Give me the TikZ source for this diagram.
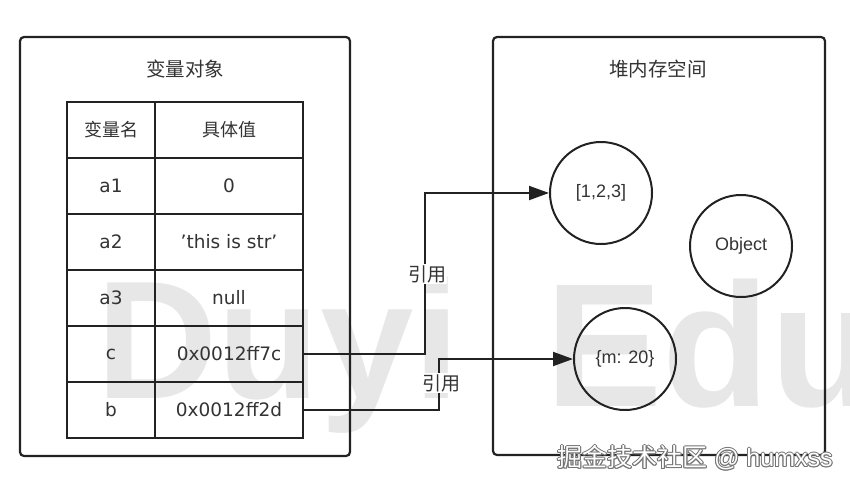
\documentclass[tikz,border=0pt]{standalone}
\usepackage{fontspec}
\setmainfont{DejaVu Sans}
\newfontfamily\cjk{Noto Sans CJK SC}
\newfontfamily\lib{Liberation Sans}
\usetikzlibrary{arrows.meta}
\definecolor{ln}{HTML}{222222}
\definecolor{tx}{HTML}{333333}
\definecolor{wm}{HTML}{E7E7E7}
\begin{document}
\begin{tikzpicture}[x=1pt,y=-1pt,
  box/.style={draw=ln, line width=2.2pt, rounded corners=4pt, inner sep=0pt},
  cell/.style={draw=ln, line width=2pt, minimum height=56pt, inner sep=0pt, text=tx, font=\fontsize{18.5}{20}\selectfont},
  namecell/.style={cell, minimum width=88pt},
  valcell/.style={cell, minimum width=148pt},
  hdr/.style={font=\cjk\fontsize{18}{20}\selectfont},
  heap/.style={draw=ln, line width=2pt, circle, minimum size=102pt, inner sep=0pt, text=tx, font=\lib\fontsize{18}{20}\selectfont},
  boxtitle/.style={text=tx, font=\cjk\fontsize{19.5}{22}\selectfont},
  ref/.style={draw=ln, line width=2pt, -{Triangle[length=20pt,width=14pt]}},
  reflabel/.style={fill=white, inner sep=1pt, text=tx, font=\cjk\fontsize{19}{21}\selectfont},
  wmtext/.style={text=wm, inner sep=0pt, anchor=base west},
  credittext/.style={anchor=west, inner sep=0pt, font=\fontsize{25}{27}\selectfont}
]
\useasboundingbox (0,0) rectangle (850,488);

% watermark
\node[wmtext, font=\lib\bfseries\fontsize{168}{168}\selectfont] (wm1) at (96,398) {Duyi};
\node[wmtext, font=\lib\bfseries\fontsize{176}{176}\selectfont] (wm2) at (545,406) {Edu};

% outer boxes
\node[box, minimum width=330pt, minimum height=419pt] (vars) at (185,246.5) {};
\node[box, minimum width=332pt, minimum height=418pt] (heapbox) at (659,246) {};
\node[boxtitle] (varstitle) at (185,69) {变量对象};
\node[boxtitle] (heaptitle) at (658,69) {堆内存空间};

% table
\node[namecell, hdr] (h1) at (111,130) {变量名};
\node[valcell, hdr] (h2) at (229,130) {具体值};
\node[namecell] (n1) at (111,186) {a1};
\node[valcell] (v1) at (229,186) {0};
\node[namecell] (n2) at (111,242) {a2};
\node[valcell] (v2) at (229,242) {'this is str'};
\node[namecell] (n3) at (111,298) {a3};
\node[valcell] (v3) at (229,298) {null};
\node[namecell] (nc) at (111,354) {c};
\node[valcell] (vc) at (229,354) {0x0012ff7c};
\node[namecell] (nb) at (111,410) {b};
\node[valcell] (vb) at (229,410) {0x0012ff2d};

% heap objects
\node[heap] (arr) at (601,193) {[1,2,3]};
\node[heap] (obj) at (741,246) {Object};
\node[heap] (mobj) at (625,359) {\{m: 20\}};

% references
\coordinate (k1) at (425,354);
\coordinate (k2) at (439,410);
\draw[ref] (vc.east) -- (k1) |- (arr.west);
\draw[ref] (vb.east) -- (k2) |- (mobj.west);
\node[reflabel] (l1) at (427,274) {引用};
\node[reflabel] (l2) at (441,383) {引用};

% attribution (white text with grey outline)
\foreach \dx/\dy [count=\i] in {-1/0,1/0,0/-1,0/1,-0.8/-0.8,0.8/0.8,-0.8/0.8,0.8/-0.8}
  \node[credittext, text=black!55] (shade\i) at (557+\dx,458+\dy) {\cjk 掘金技术社区\lib{} @ humxss};
\node[credittext, text=white] (credit) at (557,458) {\cjk 掘金技术社区\lib{} @ humxss};
\end{tikzpicture}
\end{document}
